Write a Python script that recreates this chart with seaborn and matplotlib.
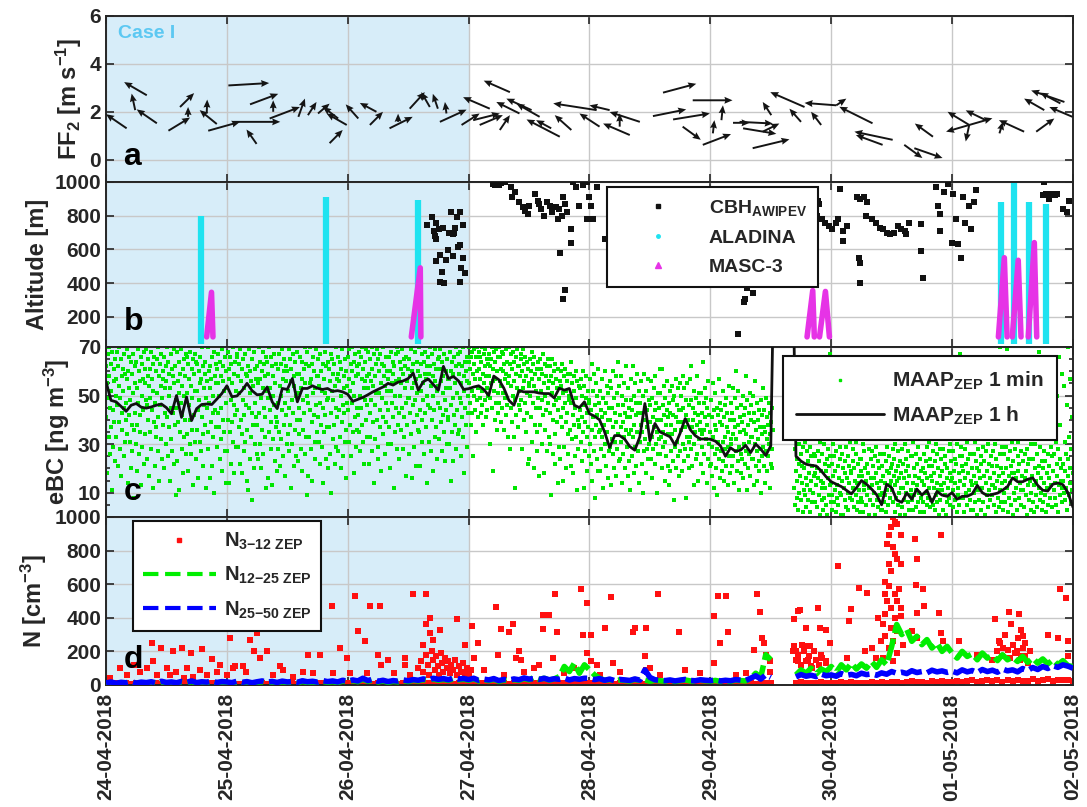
import numpy as np
import pandas as pd
import matplotlib
matplotlib.use("Agg")
import matplotlib.pyplot as plt
import seaborn as sns
from matplotlib.lines import Line2D
from matplotlib.ticker import MultipleLocator

# ---------------------------------------------------------------------------
# data (x axis = days since 24-04-2018 00:00, hourly series start at hour 0)
# ---------------------------------------------------------------------------
day_labels = ['24-04-2018', '25-04-2018', '26-04-2018', '27-04-2018', '28-04-2018',
              '29-04-2018', '30-04-2018', '01-05-2018', '02-05-2018']
case1_days = (0, 3)

# panel a: wind arrows (hour, FF2, arrow extent in hours, arrow extent in m/s)
wind_h = [4.1, 8.1, 5.8, 10.1, 12.4, 14.7, 16.3, 22.0, 20.0, 24.3, 20.3, 25.3, 29.9, 28.6,
          33.2, 32.5, 38.2, 40.1, 42.1, 47.8, 46.1, 44.4, 50.1, 53.7, 52.4, 56.3, 58.0, 60.3,
          64.3, 65.9, 67.6, 66.3, 70.6, 80.2, 76.2, 74.2, 72.9, 82.1, 84.5, 78.2, 86.1, 90.1,
          88.4, 92.4, 97.4, 98.0, 100.0, 104.0, 102.0, 106.0, 110.6, 108.6, 112.6, 116.5,
          114.5, 118.5, 120.5, 122.2, 124.5,
          128.4, 126.5, 125.8, 130.4, 132.1, 138.7, 138.0, 142.0, 145.0, 145.0, 152.2, 156.2,
          154.2, 164.2, 158.5, 160.5, 171.4, 171.4, 171.4, 171.4, 174.7, 182.3, 177.4, 184.7,
          186.3, 190.3, 189.5, 191.9]
wind_ff = [1.31, 2.69, 2.07, 1.52, 1.21, 2.2, 1.79, 1.49, 1.93, 3.1, 1.21, 1.58, 0.66, 2.31,
           2.0, 1.72, 1.79, 1.86, 1.93, 1.45, 1.72, 0.69, 1.72, 2.0, 1.45, 1.31, 1.58, 2.13,
           2.2, 2.13, 1.93, 1.58, 1.45, 2.82, 2.13, 1.45, 1.65, 1.93, 2.07, 1.24, 1.79, 0.96,
           1.31, 1.24, 2.07, 1.38, 2.07, 1.03, 1.38, 1.58, 2.8, 1.82, 1.68, 2.48,
           1.38, 0.62, 1.1, 1.65, 1.54,
           0.48, 1.31, 1.58, 1.17, 1.86, 2.2, 1.58, 1.45, 2.27, 2.27, 1.52, 0.83,
           0.62, 0.96, 0.62, 0.48, 1.45, 1.45, 1.45, 1.45, 1.65, 1.17, 1.1, 1.17,
           2.07, 2.41, 2.35, 1.79]
wind_dh = [-4.1, -4.5, -0.7, -4.0, 4.3, 2.8, 0.0, -3.4, 0.1, 8.1, 6.3, 9.3, -2.0, 5.6,
           0.0, 6.0, 1.3, 1.7, 2.3, -4.0, -3.0, 2.6, -2.5, -3.3, 2.6, 4.6, 0.0, 3.0,
           -1.7, -1.0, -0.3, 5.3, 3.6, -5.2, -5.3, 4.6, 5.3, -4.6, -5.0, 2.0, -4.6, -6.6,
           -3.0, -3.3, -8.6, -4.0, -4.0, -5.3, 0.0, -6.0, 6.6, 6.6, 7.3, 7.9,
           3.6, 5.6, 0.3, 0.3, 3.3,
           7.3, 6.6, 6.6, 3.3, -1.7, -6.8, -2.3, -2.0, -6.3, 2.0, -6.6, -7.6,
           -5.3, -3.6, 3.6, 5.6, -4.3, -4.6, -0.7, 4.6, -4.0, -5.0, 0.7, 3.6,
           -4.0, -6.6, -4.0, -4.6]
wind_dff = [0.59, 0.55, 0.69, 0.58, 0.55, 0.58, 0.41, 0.58, 0.58, 0.1, 0.37, 0.0, 0.6, 0.44,
            0.48, 0.48, 0.76, 0.55, 0.41, 0.48, 0.48, 0.55, 0.59, 0.37, 0.55, 0.48, 0.34, 0.69,
            0.62, 0.62, 0.48, 0.51, 0.48, 0.48, 0.48, 0.41, 0.28, 0.48, 0.48, 0.62, 0.55, 0.72,
            0.34, 0.62, 0.28, 0.55, 0.2, 0.48, 0.55, 0.41, 0.37, 0.28, 0.25, 0.0,
            -0.55, 0.45, 0.55, 0.62, 0.0,
            0.37, -0.23, -0.07, 0.34, 0.55, 0.62, 0.55, 0.55, 0.1, 0.28, 0.69, 0.34,
            0.41, 0.55, -0.55, -0.41, 0.55, -0.28, -0.69, 0.28, 0.41, 0.48, 0.48, 0.55,
            0.48, 0.48, 0.45, 0.41]

# panel b: cloud base height (day, m)
cbh_day = [2.658, 2.70, 2.71, 2.72, 2.73, 2.755, 2.76, 2.79, 2.80, 2.81,
           2.83, 2.84, 2.857, 2.87, 2.87, 2.89, 2.90, 2.91, 2.925, 2.93,
           2.93, 2.94, 2.95, 2.95, 2.97, 2.78, 2.73, 2.73, 2.76, 2.88,
           3.20, 3.23, 3.25, 3.27, 3.30, 3.22, 3.35, 3.38, 3.36, 3.42,
           3.45, 3.47, 3.49, 3.50, 3.55, 3.57, 3.58, 3.60, 3.62, 3.65,
           3.67, 3.69, 3.72, 3.74, 3.75, 3.77, 3.78, 3.80, 3.81, 3.85,
           3.85, 3.76, 3.78, 3.80, 3.86, 3.89, 3.91, 3.95, 3.98, 4.00,
           4.01, 4.03, 4.06, 3.98, 4.13,
           5.23, 5.28, 5.29, 5.30, 5.32, 5.33, 5.35, 5.31,
           5.89, 5.90, 5.88, 5.92, 5.95, 5.98, 6.01, 6.04, 6.06, 6.07, 6.10, 6.10, 6.13,
           6.21, 6.24, 6.27, 6.30, 6.29, 6.34, 6.37, 6.40, 6.43, 6.46,
           6.49, 6.52, 6.55, 6.58, 6.61, 6.62, 6.64, 6.74, 6.74, 6.76, 6.23, 6.24, 6.24,
           6.87, 6.88, 6.90, 6.90, 6.93, 6.97, 7.00, 7.01, 7.05, 7.03,
           7.07, 7.09, 7.11, 7.14, 7.16, 7.18, 7.20,
           7.76, 7.75, 7.78, 7.83, 7.87, 7.92, 7.97, 7.95, 7.80, 7.85]
cbh_alt = [743, 793, 709, 679, 759, 719, 568, 729, 398, 534,
           598, 699, 819, 689, 558, 729, 793, 614, 408, 819,
           628, 488, 743, 548, 458, 468, 528, 659, 408, 699,
           990, 1000, 985, 995, 1000, 980, 970, 940, 910, 880,
           850, 830, 810, 860, 930, 890, 870, 840, 800, 880,
           860, 820, 850, 779, 840, 800, 910, 870, 820, 719,
           639, 578, 308, 358, 1000, 970, 860, 980, 1000, 910,
           860, 779, 970, 779, 659,
           96, 287, 308, 368, 398, 418, 340, 430,
           890, 870, 800, 779, 759, 739, 719, 759, 779, 960, 709, 649, 739,
           910, 900, 910, 880, 800, 779, 759, 729, 719, 699,
           689, 699, 739, 719, 709, 689, 759, 749, 589, 428, 548, 398, 518,
           970, 860, 810, 709, 940, 990, 639, 930, 629, 779,
           548, 910, 759, 860, 719, 880, 950,
           1000, 920, 930, 930, 930, 840, 890, 820, 900, 920]

# ALADINA profiles (day, lowest and highest altitude)
aladina_day = [0.79, 1.82, 2.58, 7.405, 7.51, 7.64, 7.78]
aladina_top = [800, 912, 895, 880, 1010, 880, 870]
aladina_base = 40

# MASC-3 flights: start, summit and end time (day), summit altitude
masc_start = [0.833, 2.526, 5.80, 5.903, 7.383, 7.498, 7.63]
masc_peak = [0.873, 2.600, 5.847, 5.952, 7.432, 7.547, 7.68]
masc_end = [0.885, 2.605, 5.86, 5.985, 7.455, 7.570, 7.70]
masc_top = [345, 490, 355, 350, 550, 535, 640]
masc_base = 80

# panel c: eBC MAAP 1 h means (hourly from hour 0 to hour 192)
maap_1h = """55.7 48 47.4 45.5 43.5 46 46.7 45.2 44.8 45.3 46 46.5 45 42.5 50 41 49.4 39.7 44.6 46.3 46.5 46.3 48.5 50.8
54 49.5 49.8 52 55 52 50.3 50.5 53.5 47.4 44.6 52.9 52.5 57 47.4 52.9 52.9 54 53 52.5 52.9 51.7 52 51.5
50.5 47.6 48.4 49.2 50.3 51.5 52.5 53.5 55 54.3 55.5 56 57 59.2 52.2 55.7 56.8 54.5 52.2 62 57 57.8 56 52.5
52.8 53.5 54 52.5 50 58 56.5 53 48 46 52 51.5 51.5 51.5 51 50.8 50.8 49 53 52.2 52.9 46 45 47.4
42.5 41.5 40 35 28.6 33.5 33.5 32 29 27.5 33 46.7 31.4 38.5 35 34 33 29.5 34.5 40.5 36 33.5 32.1 32.1
32 31.2 29.3 25 28.5 27 27.5 29.5 26.5 30 28 25.3 29.3 150 150 150 150 25 23 21.7 21.3 21 19 16.5
14.5 13.5 12.5 11 9.5 12 15 13.5 11.5 9.2 5 13.5 12 7 6 9.9 7.3 11.5 9 11 6 10.5 9 8.5
10 7.3 8.5 8.5 9.5 13 10 8.8 9.3 9.8 11 12.5 16.1 14.5 14.5 15.5 16.1 13 11 10.7 13.5 14 13.3 10
4"""

# panel c: eBC MAAP 1 min samples, one block per recording span (start hour, end hour)
maap_1min_spans = [(0, 24), (24, 48), (48, 72), (72, 96), (96, 120), (120, 132.5),
                   (136.7, 144), (144, 168), (168, 192)]
maap_1min_24 = """62 41 55 18 67 49 33 58 70 26 45 63 37 52 11 68 44 29 61 56 39 65 23 50
57 33 68 46 21 62 39 54 70 28 49 65 17 58 43 36 61 52 25 67 45 31 59 40
47 69 34 57 14 60 42 53 66 31 48 20 64 38 59 27 51 67 36 8 55 43 62 30
64 19 53 38 69 47 26 60 35 56 42 66 13 50 63 29 57 44 68 22 55 34 61 48
69 46 24 58 40 65 17 54 61 35 49 68 28 57 44 63 12 52 66 39 47 21 60 33
37 65 51 27 70 41 58 15 63 46 32 54 67 24 49 60 38 57 20 66 43 53 30 62
56 70 41 25 64 50 37 59 15 53 67 32 45 61 27 58 43 69 22 55 38 62 48 9
45 68 23 56 39 64 11 51 59 35 47 69 28 54 42 61 18 65 50 33 58 40 67 26
66 34 51 19 63 46 57 30 68 40 54 26 61 36 49 65 13 59 42 67 31 52 24 64
52 36 63 44 16 60 48 31 66 55 27 57 41 70 34 62 21 53 46 64 38 59 12 49
45 56 35 70 28 60 47 16 53 62 39 57 21 66 43 50 33 68 10 58 44 63 37 55
61 29 55 43 67 37 50 24 64 58 32 45 69 19 56 40 62 35 52 27 66 47 14 60"""
maap_1min_25 = """53 27 68 40 61 14 57 35 66 48 22 63 39 55 70 31 46 59 18 64 42 52 29 67
44 66 29 58 37 63 51 22 69 40 56 34 61 18 48 65 27 53 42 67 31 59 46 15
36 58 11 62 45 69 24 51 60 33 56 43 7 65 38 54 20 68 47 30 61 57 41 26
62 38 55 24 70 43 57 30 64 49 20 60 36 53 68 26 45 63 33 58 41 66 12 52
64 49 16 59 35 70 44 53 28 66 39 62 13 50 58 32 67 46 23 55 41 63 37 19
39 61 47 28 67 35 54 21 63 50 32 69 44 57 25 60 38 65 47 17 56 42 62 30
60 52 34 69 27 45 65 38 56 12 61 48 30 67 43 54 21 58 36 64 50 25 59 40
68 23 51 45 59 34 66 40 53 28 64 19 57 48 36 61 43 70 26 55 33 63 50 9
68 17 47 62 33 55 44 70 28 57 39 63 15 51 66 42 60 31 53 24 69 46 35 58
58 41 65 31 54 47 22 67 38 60 52 29 63 45 14 57 35 68 42 51 24 62 48 37
20 64 49 37 61 26 56 43 67 10 52 65 32 48 59 38 63 22 54 45 70 29 57 41
66 27 59 44 56 33 64 20 50 61 39 69 46 25 58 43 53 31 65 36 60 16 54 47"""
maap_1min_26 = """66 44 57 31 69 52 38 63 25 60 47 70 35 55 18 64 50 41 67 29 58 45 62 36
59 42 68 35 63 50 27 66 45 57 38 70 31 61 53 22 64 48 56 40 69 33 58 46
53 68 22 59 43 65 33 56 48 70 27 61 39 54 14 67 46 58 32 63 51 40 69 24
65 29 60 51 37 67 44 55 19 63 49 41 70 34 58 62 26 54 47 66 39 60 52 30
57 44 66 37 60 20 52 68 30 55 47 64 41 59 12 62 50 35 67 45 56 28 70 38
68 43 57 24 64 50 36 61 55 45 69 28 59 41 65 33 53 62 47 17 66 38 56 49
61 49 26 65 43 58 34 69 53 16 60 46 63 39 55 29 68 48 57 21 64 42 51 36
60 35 70 44 58 21 63 52 40 67 31 55 48 64 26 59 43 68 37 57 50 14 62 46
66 59 31 62 45 70 27 54 40 67 50 19 58 44 63 33 56 69 37 61 24 52 47 65
54 66 32 61 45 69 39 56 27 64 51 42 58 35 67 48 23 60 53 44 65 30 57 40
41 57 30 68 53 15 60 46 64 35 59 49 23 66 42 55 38 62 28 70 51 44 67 34
63 36 59 49 68 25 55 47 62 41 70 33 58 52 18 64 45 60 38 66 29 56 50 43"""
maap_1min_27 = """64 55 70 47 61 38 66 52 43 68 59 25 63 50 69 44 57 66 35 60 48 70 53 41
61 68 49 57 66 43 64 52 70 46 59 38 67 55 62 48 69 41 58 65 53 44 63 50
67 58 30 62 49 65 55 70 45 61 19 56 68 52 40 64 57 47 69 36 60 51 66 43
70 47 56 66 39 61 54 68 45 60 51 67 36 63 57 49 69 42 59 64 46 55 70 33
58 70 28 63 54 45 67 39 61 50 68 33 56 64 48 12 59 66 42 53 69 37 62 46
62 52 58 44 67 48 65 28 60 53 69 40 56 63 47 66 35 58 51 64 43 61 22 54
55 24 65 50 60 41 68 31 57 47 63 20 54 66 38 59 45 52 27 61 35 49 64 17
57 38 65 45 52 61 30 59 48 67 42 55 18 63 36 50 58 44 62 27 53 47 65 33
56 43 62 30 58 9 51 65 40 55 26 60 46 34 63 22 48 57 39 53 14 61 44 29
49 56 24 60 41 54 37 63 15 51 45 58 29 47 61 39 52 20 56 43 34 59 26 48
50 59 36 21 64 47 32 55 42 18 58 38 52 25 45 60 33 49 11 56 40 28 54 37
38 53 44 31 57 23 50 41 60 35 46 12 54 39 27 49 58 33 43 19 52 37 47 25"""
maap_1min_28 = """48 30 57 22 44 63 36 15 52 41 27 59 33 46 8 55 38 24 50 42 61 19 35 47
36 52 19 44 28 57 41 33 12 49 38 25 60 43 30 47 21 54 35 40 16 51 27 45
29 56 40 13 53 32 45 26 60 37 20 49 43 31 58 17 39 51 28 64 34 46 23 54
42 24 58 37 31 50 14 46 39 26 55 33 43 20 48 36 62 29 41 17 53 34 45 23
41 11 48 36 57 25 44 33 62 18 50 38 29 55 42 21 47 35 59 27 43 14 52 31
31 47 38 56 22 43 35 10 50 40 27 59 32 45 18 52 37 28 44 24 57 39 30 48
46 39 24 56 33 49 16 41 28 53 37 44 22 58 30 47 10 40 35 51 26 45 32 61
51 26 40 33 61 20 46 35 29 54 42 15 49 31 38 25 56 44 21 41 34 47 13 52
19 43 38 27 54 34 48 23 42 7 50 36 29 57 41 20 46 31 53 25 39 44 17 55
27 44 36 50 19 39 58 30 45 23 53 37 28 42 8 48 33 55 25 40 31 46 20 57
33 48 28 62 37 21 45 40 13 52 30 43 35 24 49 38 58 26 42 15 47 32 51 36
39 22 51 34 43 29 64 18 47 36 26 53 41 32 49 14 45 38 24 56 30 42 35 21"""
maap_1min_29a = """35 22 48 17 41 29 55 33 12 44 26 38 51 20 36 45 28 9 42 31 57 24 39 16 47
27 44 19 38 31 52 23 41 15 46 33 28 49 21 37 43 13 35 29 54 25 40 18 47 32
30 43 21 53 34 25 40 14 49 37 27 60 32 19 45 23 38 52 29 11 41 35 26 46 18
39 24 50 16 42 30 36 45 22 58 27 34 11 48 38 20 43 31 26 51 17 40 33 46 24
33 50 24 39 13 43 30 56 21 36 47 27 15 40 32 23 44 19 37 28 48 10 34 25 42
29 53 21 37 44 14 35 27 49 32 19 41 38 25 47 30 12 43 34 22 39 28 45 20 36"""
maap_1min_29b = """12 28 5 19 33 8 24 15 41 3 22 30 10 17 62 26 7 35 14 21 2 29 11 45
20 9 31 16 4 27 13 36 7 23 48 18 2 29 11 25 15 6 33 21 10 40 17 26
18 6 25 32 13 20 4 38 16 27 9 23 55 1 31 15 19 7 26 12
3 14 30 8 22 58 12 19 5 35 24 1 28 16 9 21 67 13 25 6"""
maap_1min_30 = """14 3 22 9 30 17 6 25 11 40 19 2 27 13 8 33 21 5 16 58 24 10 29 1
9 26 15 1 34 20 12 47 7 23 18 29 4 16 38 10 25 3 21 14 31 8 55 19
18 35 7 23 12 28 4 20 15 45 9 26 31 3 14 22 6 37 17 11 24 2 19 8
24 6 17 30 2 13 27 11 42 20 5 33 15 9 22 61 18 1 28 12 36 7 24 16
27 13 50 5 21 16 32 10 25 1 18 29 7 14 42 23 4 20 12 34 9 26 15 3
3 21 10 32 17 6 26 14 45 9 23 2 19 29 11 37 5 18 25 13 8 52 20 15
22 11 28 6 63 17 24 2 13 30 19 8 36 15 5 21 27 10 16 1 23 48 12 18
28 4 22 12 35 7 16 30 1 24 10 19 43 14 6 27 21 3 17 33 9 25 11 57
7 25 14 31 3 20 9 38 17 11 26 4 22 13 29 6 16 53 10 24 2 19 33 8
15 32 6 20 13 26 2 39 18 10 23 5 29 16 48 8 21 12 31 4 24 17 7 36
21 15 27 5 12 40 18 3 23 9 30 14 6 26 11 20 1 44 17 28 7 13 24 35
11 19 28 3 50 14 22 9 25 1 34 16 6 20 41 12 27 8 18 30 5 23 15 65"""
maap_1min_01 = """16 4 27 11 33 19 7 24 14 46 22 2 30 12 9 38 18 5 25 67 15 29 8 21
25 8 19 36 13 2 28 16 44 10 22 31 5 18 58 24 11 33 7 26 15 3 40 20
13 36 3 26 17 10 31 6 23 55 14 20 1 28 11 42 19 7 34 16 25 3 22 61
12 29 6 63 17 23 1 35 14 27 9 48 19 4 30 22 11 38 16 7 25 53 13 21
9 27 13 39 5 18 30 12 24 2 48 15 21 8 33 17 4 26 11 70 20 6 29 14
32 3 18 26 10 42 15 6 29 20 69 12 24 2 34 17 8 27 14 45 21 5 31 18
23 1 35 10 18 52 7 28 16 12 40 3 25 19 31 8 22 64 14 5 27 11 37 17
11 37 23 4 56 16 26 9 19 33 1 28 13 47 22 7 24 15 39 10 30 3 65 17
6 24 13 44 2 20 30 9 57 15 26 4 18 33 12 21 68 7 29 16 10 41 23 3
20 6 27 14 50 9 23 32 2 18 43 12 26 5 35 16 21 60 8 29 13 25 4 38
19 35 11 26 62 8 14 31 5 22 50 17 2 28 13 66 9 24 38 15 20 6 59 12
15 22 10 54 19 7 31 26 12 46 3 24 17 70 9 33 20 14 57 6 28 11 41 18"""

# panel d: N 3-12 nm single points (hour, cm-3)
n312_case1_h = [0.8, 2.8, 4.1, 5.5, 6.8, 8.1, 9.1, 9.4, 10.1, 11.0,
                12.1, 12.7, 13.4, 14.0, 15.0, 15.4, 16.0, 16.9, 17.3, 18.7,
                19.0, 20.0, 21.0, 22.0, 22.6, 24.0, 24.6, 25.3, 25.6, 27.3,
                27.9, 28.6, 29.3, 29.9, 30.6, 31.9, 33.2, 34.5, 35.2, 37.2,
                39.2, 40.2, 41.2, 42.5, 44.8, 45.1, 46.4, 47.8, 48.4, 49.4,
                50.1, 51.4, 51.8, 52.4, 54.1, 54.4, 54.7, 56.0, 57.1, 59.3,
                59.3, 60.3, 61.0, 63.0, 63.6, 63.6, 64.3, 64.3, 65.0, 66.3,
                69.6, 71.3, 72.6, 73.9, 62.0, 62.5, 63.0, 63.5, 64.0, 64.2,
                64.8, 65.0, 65.3, 65.6, 66.0, 66.2, 66.5, 66.8, 67.0, 67.4,
                67.7, 68.0, 68.3, 68.6, 69.0, 69.3, 69.7, 70.0, 70.4, 70.8,
                71.2, 71.6, 72.0, 72.4]
n312_case1_v = [40, 100, 60, 120, 80, 100, 250, 140, 60, 220,
                100, 60, 200, 80, 220, 40, 100, 190, 50, 90,
                216, 60, 156, 80, 120, 60, 280, 100, 110, 110,
                80, 270, 200, 310, 160, 200, 60, 110, 90, 50,
                80, 180, 70, 180, 470, 70, 220, 160, 70, 530,
                320, 260, 70, 470, 180, 470, 120, 150, 70, 160,
                120, 60, 540, 240, 544, 360, 400, 310, 270, 330,
                390, 240, 350, 250, 100, 140, 80, 180, 120, 60,
                200, 150, 90, 170, 110, 60, 190, 130, 80, 160,
                100, 140, 70, 120, 90, 150, 60, 110, 80, 130,
                70, 100, 60, 90]
n312_mid_h = [73.0, 77.4, 77.8, 78.5, 80.1, 80.9, 82.1, 82.5, 81.5, 84.9,
              86.8, 88.0, 86.8, 88.8, 89.2, 89.6, 94.3, 94.7, 95.5, 96.3,
              95.5, 96.3, 97.5, 99.1, 100.3, 100.6, 104.6, 105.0, 107.0, 107.3,
              107.3, 108.0, 109.7, 113.7, 120.8, 121.6, 123.2, 122.0, 123.5, 120.8,
              127.1, 128.7, 129.3, 129.8, 130.3, 130.6, 131.0, 131.8, 131.8,
              75.0, 79.0, 83.0, 86.0, 91.0, 93.0, 98.0, 102.0, 110.0, 115.0, 118.0, 125.0]
n312_mid_v = [160, 464, 180, 336, 316, 360, 200, 150, 160, 100,
              414, 414, 336, 160, 540, 316, 574, 300, 490, 300,
              190, 140, 120, 340, 524, 130, 316, 340, 170, 340,
              90, 100, 540, 316, 410, 530, 530, 250, 316, 130,
              70, 210, 540, 436, 280, 250, 180, 140, 80,
              90, 60, 80, 120, 70, 100, 60, 80, 60, 90, 70, 60]
n312_late_h = [136.6, 137.4, 137.8, 136.6, 137.0, 137.4, 138.2, 138.6, 139.0, 139.4,
               139.8, 140.2, 141.3, 141.7, 142.1, 142.9, 142.9, 143.7, 145.3, 147.2,
               147.6, 148.0, 149.6, 151.2, 150.8, 152.0, 152.8, 153.2, 136.5, 137.0,
               137.5, 138.0, 138.5, 139.0, 139.5, 140.0, 140.5, 141.0, 141.5, 142.0,
               143.0,
               156.3, 156.7, 155.9, 155.5, 157.1, 157.9, 155.1, 156.3, 156.7, 155.5,
               157.1, 155.9, 157.9, 154.7, 155.5, 156.7, 157.5, 154.7, 155.1, 157.1,
               155.9, 157.9, 154.7, 156.7, 157.9, 154.3, 155.9, 157.1, 154.7, 156.3,
               153.9, 158.3, 155.5, 157.1, 154.3, 156.3,
               160.7, 161.0, 160.9, 162.2, 161.0, 162.4, 165.4, 165.8, 160.0, 161.0,
               165.8, 166.2, 169.3, 172.9, 176.5, 177.3, 178.1, 179.2, 179.6, 181.2,
               180.8, 181.6, 182.0, 182.4, 181.6, 187.1, 189.1, 189.5, 190.7, 191.1,
               191.1, 176.0, 177.0, 177.5, 178.0, 178.5, 179.0, 179.5, 180.0, 180.5,
               181.0, 181.5, 182.0, 182.5, 183.0, 183.5]
n312_late_v = [390, 440, 444, 230, 200, 140, 240, 200, 340, 150,
               230, 100, 460, 340, 160, 330, 140, 250, 710, 160,
               380, 450, 580, 550, 200, 220, 160, 400, 200, 150,
               180, 120, 230, 140, 170, 110, 200, 150, 120, 180,
               130,
               1000, 970, 940, 890, 960, 890, 840, 820, 780, 720,
               750, 680, 720, 610, 590, 540, 570, 540, 500, 500,
               460, 460, 420, 400, 410, 360, 340, 320, 290, 260,
               260, 240, 220, 190, 160, 140,
               870, 750, 596, 574, 430, 470, 430, 890, 320, 280,
               310, 260, 264, 180, 390, 260, 220, 436, 360, 420,
               200, 330, 290, 250, 170, 296, 280, 570, 520, 260,
               170, 150, 200, 250, 170, 300, 210, 160, 240, 190,
               280, 150, 220, 170, 130, 200]
# N 3-12 background level, hourly
n312_hourly = """8 6 10 7 9 5 12 8 6 11 9 7 10 6 8 13 7 9 5 11 8 10 6 9
7 11 8 6 12 9 7 10 5 8 13 6 9 11 7 8 10 6 12 9 5 8 11 7
10 6 9 13 8 7 11 5 9 12 6 10 8 14 7 9 11 6 13 8 10 7 12 9
11 8 14 9 12 7 15 10 8 13 11 9 16 10 12 8 14 11 9 13 10 15 8 12
9 13 10 7 12 8 11 9 6 10 13 8 11 7 9 12 10 6 8 11 9 13 7 10
8 11 7 10 9 12 6 9 11 8 10 13 9 nan nan nan nan 12 15 10 14 11 16 9
13 10 15 12 17 11 14 9 16 13 18 12 15 20 14 17 22 16 19 13 21 18 24 15
20 26 17 23 28 19 25 30 22 27 18 32 24 29 21 26 33 23 28 35 25 30 27 31
24"""
n1225_hourly = """8 14 6 12 9 16 7 13 10 15 8 18 11 14 9 17 12 20 10 15 13 19 11 16
14 10 18 12 16 9 15 20 13 17 11 19 14 16 12 21 15 18 13 22 16 20 14 24
18 26 20 34 22 30 18 24 16 22 19 26 21 28 24 32 26 35 28 33 27 37 30 34
28 36 24 31 26 34 22 29 25 32 27 38 30 46 33 40 29 36 50 110 80 130 70 120
90 60 40 28 32 25 30 27 23 33 26 30 22 28 25 23 27 21 26 30 24 22 28 25
23 27 21 25 22 29 26 24 38 70 45 180 150 nan nan nan nan 60 90 70 100 65 95 80
110 75 120 90 130 95 125 100 140 105 150 120 230 360 300 330 260 290 240 270 220 250 200 230
190 160 200 170 185 150 190 160 175 145 180 150 165 140 170 135 160 130 155 125 150 120 145 115
110"""
n2550_hourly = """12 18 10 16 13 20 11 17 14 19 12 22 15 18 13 21 16 24 14 19 17 23 15 20
18 14 22 16 20 13 19 24 17 21 15 23 18 20 16 25 19 22 17 26 20 24 18 28
22 30 24 40 26 35 22 28 20 26 23 30 25 32 28 36 30 40 33 38 31 42 35 39
32 40 28 35 30 38 26 33 29 36 31 42 35 38 33 40 31 37 34 41 30 38 34 40
40 32 38 28 35 26 33 30 27 36 29 90 45 31 28 26 30 24 29 33 27 25 31 28
26 30 24 28 25 32 29 27 40 55 35 60 45 nan nan nan nan 48 62 52 58 50 65 55
60 52 68 57 63 55 70 62 66 58 72 64 80 70 76 68 85 74 80 72 88 78 84 75
82 72 90 78 86 74 92 80 88 76 95 84 90 78 98 86 104 92 110 98 115 105 120 112
100"""

# ---------------------------------------------------------------------------
# style
# ---------------------------------------------------------------------------
sns.set_theme(style='ticks')
plt.rcParams['font.family'] = ['Liberation Sans', 'DejaVu Sans']
plt.rcParams['font.weight'] = 'bold'
plt.rcParams['axes.labelweight'] = 'bold'
plt.rcParams['mathtext.fontset'] = 'custom'
plt.rcParams['mathtext.rm'] = 'Liberation Sans:bold'
plt.rcParams['mathtext.it'] = 'Liberation Sans:bold'
plt.rcParams['mathtext.bf'] = 'Liberation Sans:bold'
plt.rcParams['mathtext.default'] = 'rm'

dark = '#262626'
case_blue = '#d7edf9'
green = '#00e600'
cyan = '#1fe3f0'
magenta = '#e633e6'


def parse(block):
    return np.array(block.split(), dtype=float)


def hourly_frame(block):
    v = parse(block)
    df = pd.DataFrame({'day': np.arange(len(v)) / 24.0, 'v': v})
    df['seg'] = df['v'].isna().cumsum()
    return df.dropna()


fig = plt.figure(figsize=(10.87, 8.07), dpi=100)
ax_a = fig.add_axes([0.0975, 0.7745, 0.8896, 0.2057])
ax_b = fig.add_axes([0.0975, 0.5700, 0.8896, 0.2045])
ax_c = fig.add_axes([0.0975, 0.3594, 0.8896, 0.2107])
ax_d = fig.add_axes([0.0975, 0.1512, 0.8896, 0.2082])
axes = [ax_a, ax_b, ax_c, ax_d]

# ---- a: wind ----
ax_a.quiver(np.array(wind_h) / 24, wind_ff, np.array(wind_dh) / 24, wind_dff,
            angles='xy', scale_units='xy', scale=1, color='#141414',
            width=0.002, headwidth=3.6, headlength=4.2, headaxislength=3.8, zorder=3)
ax_a.set_ylim(-0.93, 6)
ax_a.set_yticks([0, 2, 4, 6])
ax_a.set_ylabel(r'FF$_2$ [m s$^{-1}$]', fontsize=17, color=dark)
ax_a.text(0.012, 0.945, 'Case I', transform=ax_a.transAxes, color='#5cc8f2',
          fontsize=14, fontweight='bold', va='top')

# ---- b: altitude ----
sns.scatterplot(x=np.array(cbh_day), y=np.array(cbh_alt), marker='s', s=16,
                color='#111111', linewidth=0, ax=ax_b, zorder=3, legend=False)
ax_b.vlines(aladina_day, aladina_base, aladina_top, color=cyan, lw=4.5, zorder=2)
for s0, pk, e0, top in zip(masc_start, masc_peak, masc_end, masc_top):
    ax_b.plot([s0, pk, e0], [masc_base, top, masc_base], color=magenta, lw=4, zorder=4)
ax_b.set_ylim(20, 1000)
ax_b.set_yticks([200, 400, 600, 800, 1000])
ax_b.set_ylabel('Altitude [m]', fontsize=17, color=dark)
hb = [Line2D([], [], ls='', marker='s', ms=3.5, color='#111111'),
      Line2D([], [], ls='', marker='o', ms=2.5, color=cyan),
      Line2D([], [], ls='', marker='^', ms=4, color=magenta)]
leg_b = ax_b.legend(hb, [r'CBH$_{\rm AWIPEV}$', 'ALADINA', 'MASC-3'], loc='upper left',
                    bbox_to_anchor=(0.518, 0.97), borderaxespad=0, fontsize=14,
                    handlelength=4.2, numpoints=1, labelspacing=0.6, borderpad=0.55,
                    handletextpad=0.5, fancybox=False, framealpha=1)

# ---- c: eBC ----
mins_t, mins_v = [], []
for (h0, h1), block in zip(maap_1min_spans,
                           [maap_1min_24, maap_1min_25, maap_1min_26, maap_1min_27,
                            maap_1min_28, maap_1min_29a, maap_1min_29b, maap_1min_30,
                            maap_1min_01]):
    v = parse(block)
    mins_t.append(np.linspace(h0, h1, len(v), endpoint=False) / 24.0)
    mins_v.append(v)
sns.scatterplot(x=np.concatenate(mins_t), y=np.concatenate(mins_v), marker='s', s=5,
                color=green, linewidth=0, ax=ax_c, zorder=2, legend=False)
maap = parse(maap_1h)
sns.lineplot(x=np.arange(len(maap)) / 24.0, y=maap, color='#111111', lw=2,
             ax=ax_c, zorder=3, legend=False)
ax_c.set_ylim(0, 70)
ax_c.set_yticks([10, 30, 50, 70])
ax_c.yaxis.set_minor_locator(MultipleLocator(5))
ax_c.set_ylabel(r'eBC [ng m$^{-3}$]', fontsize=17, color=dark)
hc = [Line2D([], [], ls='', marker='s', ms=2, color=green),
      Line2D([], [], color='#111111', lw=2)]
leg_c = ax_c.legend(hc, [r'MAAP$_{\rm ZEP}$ 1 min', r'MAAP$_{\rm ZEP}$ 1 h'],
                    loc='upper right', bbox_to_anchor=(0.9835, 0.945), borderaxespad=0,
                    fontsize=15, handlelength=4.2, numpoints=1, labelspacing=0.6,
                    borderpad=0.65, handletextpad=0.4, fancybox=False, framealpha=1)

# ---- d: particle number ----
red_t = np.concatenate([np.array(n312_case1_h), np.array(n312_mid_h), np.array(n312_late_h)]) / 24.0
red_v = np.concatenate([n312_case1_v, n312_mid_v, n312_late_v])
low = parse(n312_hourly)
red_t = np.concatenate([red_t, np.arange(len(low)) / 24.0])
red_v = np.concatenate([red_v, low])
sns.scatterplot(x=red_t, y=red_v, marker='s', s=14, color='#ff1010', linewidth=0,
                ax=ax_d, zorder=2, legend=False)
df_g = hourly_frame(n1225_hourly)
sns.lineplot(data=df_g, x='day', y='v', units='seg', estimator=None, color='#00ee00',
             lw=4, linestyle=(0, (4, 1)), ax=ax_d, zorder=3, legend=False)
df_bl = hourly_frame(n2550_hourly)
sns.lineplot(data=df_bl, x='day', y='v', units='seg', estimator=None, color='#0000ff',
             lw=4, linestyle=(0, (4, 1)), ax=ax_d, zorder=4, legend=False)
ax_d.set_ylim(0, 1000)
ax_d.set_yticks([0, 200, 400, 600, 800, 1000])
ax_d.set_ylabel(r'N [cm$^{-3}$]', fontsize=17, color=dark)
hd = [Line2D([], [], ls='', marker='s', ms=3, color='#ff1010'),
      Line2D([], [], ls='--', lw=3, color='#00ee00'),
      Line2D([], [], ls='--', lw=3, color='#0000ff')]
leg_d = ax_d.legend(hd, [r'N$_{\rm 3{-}12\ ZEP}$', r'N$_{\rm 12{-}25\ ZEP}$',
                         r'N$_{\rm 25{-}50\ ZEP}$'],
                    loc='upper left', bbox_to_anchor=(0.028, 0.978), borderaxespad=0,
                    fontsize=14.5, handlelength=3.6, numpoints=1, labelspacing=0.65,
                    borderpad=0.5, handletextpad=0.4, fancybox=False, framealpha=1)

for leg in (leg_b, leg_c, leg_d):
    leg.get_frame().set_edgecolor('#111111')
    leg.get_frame().set_linewidth(1.5)

# ---- common axes styling ----
for ax, letter in zip(axes, 'abcd'):
    ax.set_facecolor('white')
    ax.axvspan(*case1_days, color=case_blue, lw=0, zorder=0)
    ax.set_xlim(0, len(day_labels) - 1)
    ax.set_xticks(range(len(day_labels)))
    ax.set_xlabel('')
    ax.grid(True, color='#c8c8c8', lw=1.0)
    ax.set_axisbelow(True)
    ax.tick_params(which='both', direction='in', top=True, right=True, width=1.2,
                   labelsize=15, labelcolor=dark, color=dark, labelbottom=False)
    ax.tick_params(which='major', length=6)
    ax.tick_params(which='minor', length=3)
    for sp in ax.spines.values():
        sp.set_color(dark)
        sp.set_linewidth(1.4)
    ax.text(0.018, 0.06, letter, transform=ax.transAxes, fontsize=23,
            fontweight='bold', color='black', va='bottom', zorder=6)

ax_d.tick_params(axis='x', labelbottom=True, pad=6)
ax_d.set_xticklabels(day_labels, rotation=90)

fig.savefig('out.png', dpi=100)
